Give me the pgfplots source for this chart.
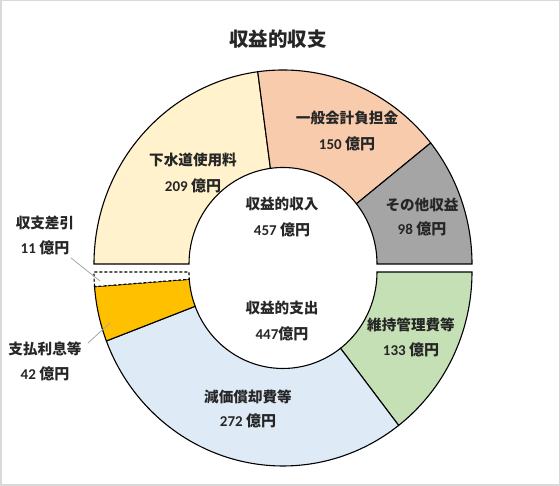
\documentclass[border=0pt]{standalone}
\usepackage{pgfplots}
\pgfplotsset{compat=1.18}
\usepackage{fontspec}
\setmainfont{Carlito}
\newfontfamily\cjk{Noto Sans CJK JP}

\definecolor{sewer}{HTML}{FFF2CC}
\definecolor{general}{HTML}{F8CBAD}
\definecolor{other}{HTML}{A5A5A5}
\definecolor{upkeep}{HTML}{C5E0B4}
\definecolor{deprec}{HTML}{DEEBF7}
\definecolor{interest}{HTML}{FFC000}
\definecolor{txt}{HTML}{262626}
\definecolor{frame}{HTML}{D9D9D9}

% ring segment: centre y, start angle, end angle, style
\newcommand{\ring}[4]{%
  \filldraw[#4] (axis cs:{283+189*cos(#2)},{#1+194*sin(#2)})
    arc[start angle={#2}, end angle={#3}, x radius=189pt, y radius=194pt]
    -- (axis cs:{283+94*cos(#3)},{#1+96.5*sin(#3)})
    arc[start angle={#3}, end angle={#2}, x radius=94pt, y radius=96.5pt]
    -- cycle;}
% two-line label: x, y of first line, y of second line, name, amount
\newcommand{\lbl}[5]{%
  \node[text=txt, font=\bfseries\fontsize{14.6}{16}\selectfont] at (axis cs:#1,#2) {\cjk #4};
  \node[text=txt, font=\bfseries\fontsize{15}{16}\selectfont] at (axis cs:#1,#3) {#5};}

\begin{document}
\begin{tikzpicture}
\begin{axis}[
    x=1pt, y=1pt,
    xmin=0, xmax=560, ymin=0, ymax=486,
    hide axis, clip=false,
    ]
\draw[frame, line width=1.5pt] (axis cs:0.75,0.75) rectangle (axis cs:559.25,485.25);

% revenue (upper half), total 457
\ring{222}{180}{180-209/457*180}{fill=sewer, draw=black, line width=1.1pt}
\ring{222}{180-209/457*180}{180-359/457*180}{fill=general, draw=black, line width=1.1pt}
\ring{222}{180-359/457*180}{0}{fill=other, draw=black, line width=1.1pt}
% expenditure (lower half), total 447 + 11
\ring{214}{0}{-133/458*180}{fill=upkeep, draw=black, line width=1.1pt}
\ring{214}{-133/458*180}{-405/458*180}{fill=deprec, draw=black, line width=1.1pt}
\ring{214}{-405/458*180}{-447/458*180}{fill=interest, draw=black, line width=1.1pt}
\ring{214}{-447/458*180}{-180}{fill=white, draw=black, line width=1.1pt, dash pattern=on 3pt off 2pt}

\draw[gray!70, line width=0.8pt] (axis cs:71,228) -- (axis cs:100,205);
\draw[gray!70, line width=0.8pt] (axis cs:88,143) -- (axis cs:110,163);

\node[text=txt, font=\cjk\bfseries\fontsize{19.5}{22}\selectfont] at (axis cs:278,447) {収益的収支};

\lbl{193}{326}{300}{下水道使用料}{209 {\cjk 億円}}
\lbl{347}{368}{342}{一般会計負担金}{150 {\cjk 億円}}
\lbl{422}{281}{257}{その他収益}{98 {\cjk 億円}}
\lbl{45}{263}{238}{収支差引}{11 {\cjk 億円}}
\lbl{45}{137}{112}{支払利息等}{42 {\cjk 億円}}
\lbl{411}{161}{136}{維持管理費等}{133 {\cjk 億円}}
\lbl{248}{89}{65}{減価償却費等}{272 {\cjk 億円}}
\lbl{282}{282}{256}{収益的収入}{457 {\cjk 億円}}
\lbl{282}{178}{152}{収益的支出}{447{\cjk 億円}}
\end{axis}
\end{tikzpicture}
\end{document}
